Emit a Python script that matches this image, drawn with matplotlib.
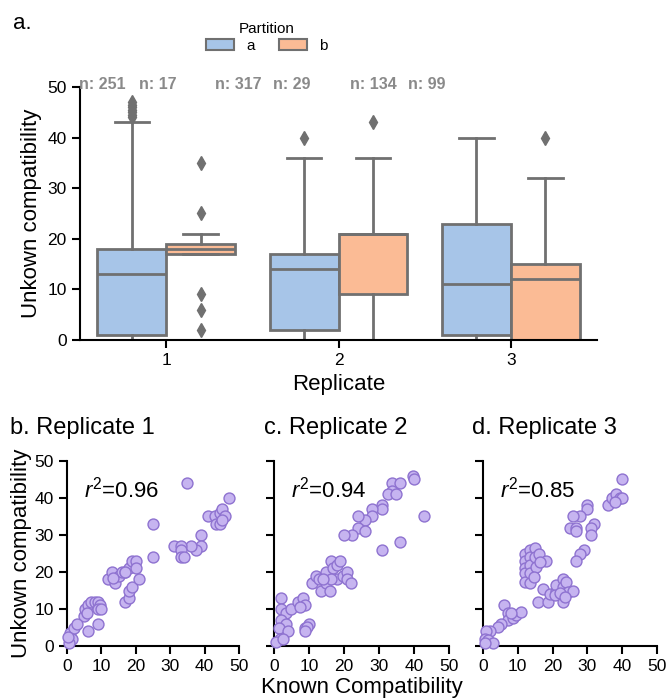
"""Partition boxplots and per-replicate known vs unknown compatibility scatters."""

import matplotlib

matplotlib.use("Agg")
import matplotlib.pyplot as plt

plt.rcParams["font.family"] = ["Liberation Sans", "DejaVu Sans"]
plt.rcParams["mathtext.fontset"] = "custom"
plt.rcParams["mathtext.rm"] = "Liberation Sans"
plt.rcParams["mathtext.it"] = "Liberation Sans:italic"

# ---- panel a: box summaries per replicate / partition ----
replicates = ["1", "2", "3"]
partitions = ["a", "b"]
counts_a = [251, 317, 134]
counts_b = [17, 29, 99]
q1_a = [1, 2, 1]
med_a = [13, 14, 11]
q3_a = [18, 17, 23]
lo_a = [0, 0, 0]
hi_a = [43, 36, 40]
fliers_a = [[44, 44.5, 45, 45.5, 46, 46.5, 47], [40], []]
q1_b = [17, 9, 0]
med_b = [18, 21, 12]
q3_b = [19, 21, 15]
lo_b = [17, 0, 0]
hi_b = [21, 36, 32]
fliers_b = [[35, 25, 9, 6, 2], [43], [40]]
# x positions of the "n:" labels (data units)
n_label_x_a = [-0.37, 0.42, 1.20]
n_label_x_b = [-0.05, 0.73, 1.51]

# ---- panels b-d: known vs unknown compatibility ----
known_1 = [35, 25, 25, 47, 41, 43, 44.4, 45, 46, 43.4, 44.4, 45, 39, 39, 37.6, 36,
           31, 33, 33, 33, 34, 12, 13, 14, 15, 16, 17, 18, 19, 20, 20, 17, 13.5,
           17, 18, 18, 19, 21, 5, 5.3, 6, 7, 8, 9, 9.7, 9, 10, 5.8, 6, 9,
           1, 1.5, 2, 3, 0.5, 0.3]
unknown_1 = [44, 33, 24, 40, 35, 35, 36, 37, 35, 33, 33, 34, 30, 27, 26, 27,
             27, 27, 26, 24, 24, 18, 20, 17, 19, 20, 20, 21, 23, 23, 21, 20, 18.5,
             12, 13, 15, 16, 18, 8, 10, 11, 12, 12, 12, 11, 10, 10, 9, 4, 6,
             3.4, 2, 5, 6, 0.7, 2.5]
r2_1 = 0.96

known_2 = [39.9, 40, 43, 33.8, 36, 33.8, 32.7, 34.8, 31, 31, 28, 28, 26, 24, 24,
           26, 22.2, 20, 31, 36, 11, 12, 13, 13.5, 15, 16, 15, 16.4, 17, 17.9,
           19, 18, 19.8, 21, 21, 22, 16.4, 14, 2, 2, 3.5, 5, 7, 8.3, 9, 7.4,
           2, 3.5, 1.4, 4, 1.6, 0.7, 2.6, 10, 9, 9.5, 9]
unknown_2 = [46, 45, 35, 44, 44, 42, 41, 41, 38, 37, 37, 35, 34, 35, 32,
             31, 30, 30, 26, 28, 17, 19, 18, 15, 17, 15, 20, 23, 21, 22,
             23, 18, 19, 20, 18, 17, 18, 18, 13, 10, 9, 10, 12, 13, 11, 10.6,
             7, 6, 5, 4, 2, 1.2, 2, 6, 5, 5.2, 4]
r2_2 = 0.94

known_3 = [40, 36, 37, 38.3, 39.3, 40, 37.8, 30, 30, 28, 26, 25, 26.8, 26.8, 32,
           31, 31, 29, 27.8, 26.8, 12, 12, 12, 12, 12, 13.4, 13.4, 13.4, 13.4,
           13.4, 15, 15, 15.3, 16, 18, 14.8, 16.3, 15.8, 17.2, 18.7, 19.2, 21,
           21, 23, 23, 23, 23.9, 24.4, 25.8, 20.6, 22, 23.5, 6.2, 7.2, 7.2, 8.6,
           9.6, 11, 5.3, 4.3, 8.1, 2, 1, 0.5, 1.4, 2.9, 0.5]
unknown_3 = [45, 38, 40, 41, 40, 40, 39, 38, 37, 35, 35, 32, 32, 31, 33,
             32, 30, 26, 25, 23, 25, 23, 21, 19.6, 17.4, 26, 24, 22, 19.6,
             17, 26.4, 24, 21.4, 25, 23, 18.7, 22.7, 12, 15.3, 12, 14, 15,
             16.5, 18, 16, 12, 17.4, 14.7, 15, 13.8, 14.2, 13.3, 11, 9, 7, 7.7,
             8.4, 9.3, 6, 5.2, 8.8, 4, 4, 2, 1.6, 0.7, 0.7]
r2_3 = 0.85

box_colors = ["#a7c5e8", "#fbbb95"]
box_edge = "#707070"
point_face = "#c6b4f0"
point_edge = "#8e72d0"
n_color = "#8a8a8a"


def box_stats(q1, med, q3, lo, hi, fliers):
    return [
        {"q1": a, "med": m, "q3": b, "whislo": l, "whishi": h, "fliers": f}
        for a, m, b, l, h, f in zip(q1, med, q3, lo, hi, fliers)
    ]


fig = plt.figure(figsize=(6.67, 6.99), dpi=100)

# ---------------- panel a ----------------
ax = fig.add_axes([0.120, 0.5136, 0.775, 0.362])
stats_by_part = [
    box_stats(q1_a, med_a, q3_a, lo_a, hi_a, fliers_a),
    box_stats(q1_b, med_b, q3_b, lo_b, hi_b, fliers_b),
]
for j, stats in enumerate(stats_by_part):
    pos = [i - 0.2 + 0.4 * j for i in range(len(replicates))]
    ax.bxp(
        stats,
        positions=pos,
        widths=0.4,
        patch_artist=True,
        showcaps=True,
        boxprops=dict(facecolor=box_colors[j], edgecolor=box_edge, linewidth=2),
        medianprops=dict(color=box_edge, linewidth=2),
        whiskerprops=dict(color=box_edge, linewidth=2),
        capprops=dict(color=box_edge, linewidth=2),
        flierprops=dict(marker="d", markerfacecolor=box_edge,
                        markeredgecolor=box_edge, markersize=7.5),
        capwidths=0.2,
        manage_ticks=False,
    )

ax.set_xlim(-0.5, 2.5)
ax.set_ylim(0, 50)
ax.set_xticks(range(len(replicates)), replicates)
ax.set_yticks([0, 10, 20, 30, 40, 50])
ax.set_xlabel("Replicate", fontsize=16)
ax.set_ylabel("Unkown compatibility", fontsize=16)
ax.tick_params(labelsize=12.5, width=1.5, length=6)
for side in ["top", "right"]:
    ax.spines[side].set_visible(False)
for side in ["left", "bottom"]:
    ax.spines[side].set_linewidth(1.5)

for x, n in zip(n_label_x_a, counts_a):
    ax.text(x, 50.5, f"n: {n}", ha="center", va="center", fontsize=11.5,
            fontweight="bold", color=n_color, clip_on=False)
for x, n in zip(n_label_x_b, counts_b):
    ax.text(x, 50.5, f"n: {n}", ha="center", va="center", fontsize=11.5,
            fontweight="bold", color=n_color, clip_on=False)

handles = [
    plt.Rectangle((0, 0), 1, 1, facecolor=c, edgecolor=box_edge, linewidth=1.5)
    for c in box_colors
]
fig.legend(handles, partitions, title="Partition", ncol=2, frameon=False,
           loc="upper center", bbox_to_anchor=(0.40, 0.982), fontsize=11,
           title_fontsize=11, handlelength=1.8, handleheight=0.7,
           columnspacing=1.6, handletextpad=0.8, borderaxespad=0.2,
           labelspacing=0.2)
fig.text(0.02, 0.967, "a.", fontsize=16, va="center", ha="left")

# ---------------- panels b-d ----------------
scatter_panels = [
    ("b. Replicate 1", known_1, unknown_1, r2_1, [0.1004, 0.0758, 0.258, 0.2647], 0.087),
    ("c. Replicate 2", known_2, unknown_2, r2_2, [0.4108, 0.0758, 0.262, 0.2647], 0.355),
    ("d. Replicate 3", known_3, unknown_3, r2_3, [0.7240, 0.0758, 0.261, 0.2647], 0.356),
]
for k, (title, xs, ys, r2, rect, title_x) in enumerate(scatter_panels):
    sax = fig.add_axes(rect)
    sax.scatter(xs, ys, s=62, facecolor=point_face, edgecolor=point_edge,
                linewidth=1, zorder=3, clip_on=False)
    sax.set_xlim(0, 50)
    sax.set_ylim(0, 50)
    sax.set_xticks([0, 10, 20, 30, 40, 50])
    sax.set_yticks([0, 10, 20, 30, 40, 50])
    sax.tick_params(labelsize=12.5, width=1.5, length=6)
    for side in ["top", "right"]:
        sax.spines[side].set_visible(False)
    for side in ["left", "bottom"]:
        sax.spines[side].set_linewidth(1.5)
    if k == 0:
        sax.set_ylabel("Unkown compatibility", fontsize=16, labelpad=2)
    else:
        sax.set_yticklabels([])
    if k == 1:
        sax.set_xlabel("Known Compatibility", fontsize=16, labelpad=2)
    sax.text(title_x, 1.18, title, transform=sax.transAxes, ha="center",
             va="center", fontsize=17)
    sax.text(0.1, 0.843, rf"$r^2$=" + f"{r2:.2f}", transform=sax.transAxes,
             ha="left", va="center", fontsize=16)

fig.savefig("out.png", dpi=100)
